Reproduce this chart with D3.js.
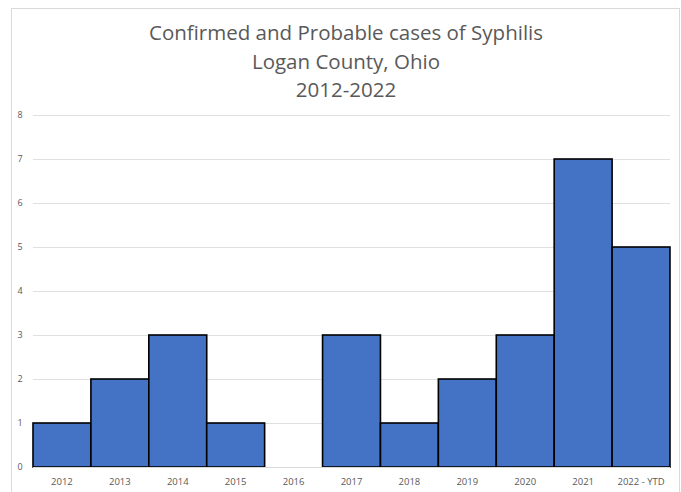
<!DOCTYPE html>
<html>
<head>
<meta charset="utf-8">
<script src="https://cdn.jsdelivr.net/npm/d3@7"></script>
<style>
  body { margin: 0; background: #fff; }
  svg { display: block; }
</style>
</head>
<body>
<svg id="chart"></svg>
<script>
const width = 681, height = 492;

// data
const years = ["2012", "2013", "2014", "2015", "2016", "2017", "2018", "2019", "2020", "2021", "2022 - YTD"];
const cases = [1, 2, 3, 1, 0, 3, 1, 2, 3, 7, 5];
const yTicks = [0, 1, 2, 3, 4, 5, 6, 7, 8];
const titleLines = ["Confirmed and Probable cases of Syphilis", "Logan County, Ohio", "2012-2022"];

const svg = d3.select("#chart")
    .attr("width", width)
    .attr("height", height);

// chart frame
svg.append("rect")
    .attr("x", 11.5).attr("y", 8.5)
    .attr("width", 668).attr("height", 490)
    .attr("fill", "#fff")
    .attr("stroke", "#d9d9d9");

const x = d3.scaleBand()
    .domain(years)
    .range([33, 670])
    .padding(0);

const y = d3.scaleLinear()
    .domain([0, 8])
    .range([467, 115]);

// gridlines
svg.append("g")
    .selectAll("line")
    .data(yTicks)
    .join("line")
    .attr("x1", 33).attr("x2", 670)
    .attr("y1", d => y(d) + 0.5).attr("y2", d => y(d) + 0.5)
    .attr("stroke", "#e0e0e0");

// y tick labels
svg.append("g")
    .selectAll("text")
    .data(yTicks)
    .join("text")
    .attr("x", 20)
    .attr("y", d => y(d))
    .attr("dy", "0.35em")
    .attr("text-anchor", "middle")
    .attr("font-family", "Open Sans, sans-serif")
    .attr("font-size", 9)
    .attr("fill", "#595959")
    .text(d => d);

// bars
svg.append("g")
    .selectAll("rect")
    .data(cases)
    .join("rect")
    .attr("x", (d, i) => x(years[i]))
    .attr("y", d => y(d))
    .attr("width", x.bandwidth())
    .attr("height", d => y(0) - y(d))
    .attr("fill", "#4472c4")
    .attr("stroke", d => d > 0 ? "#000" : "none")
    .attr("stroke-width", 1.6);

// axis line
svg.append("line")
    .attr("x1", 33).attr("x2", 670)
    .attr("y1", y(0) + 0.5).attr("y2", y(0) + 0.5)
    .attr("stroke", "#d9d9d9");

// category labels
svg.append("g")
    .selectAll("text")
    .data(years)
    .join("text")
    .attr("x", d => x(d) + x.bandwidth() / 2)
    .attr("y", 485)
    .attr("text-anchor", "middle")
    .attr("font-family", "Open Sans, sans-serif")
    .attr("font-size", 9.5)
    .attr("fill", "#595959")
    .text(d => d);

// title
svg.append("g")
    .selectAll("text")
    .data(titleLines)
    .join("text")
    .attr("x", 346)
    .attr("y", (d, i) => 40 + i * 28.5)
    .attr("text-anchor", "middle")
    .attr("font-family", "Open Sans, sans-serif")
    .attr("font-size", 20.5)
    .attr("fill", "#595959")
    .text(d => d);
</script>
</body>
</html>
